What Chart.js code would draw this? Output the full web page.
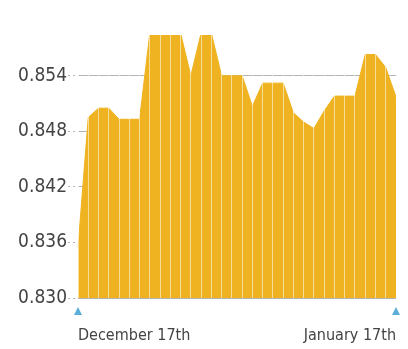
<!DOCTYPE html>
<html lang="en">
<head>
    <meta charset="UTF-8">
    <title>Rate chart</title>
    <script src="https://cdn.jsdelivr.net/npm/chart.js"></script>
    <style>
        html, body {
            margin: 0;
            padding: 0;
            background: #ffffff;
        }
        #wrap {
            width: 408px;
            height: 349px;
        }
    </style>
</head>
<body>
    <div id="wrap"><canvas id="rateChart" width="408" height="349"></canvas></div>

    <script>
        // daily points, Dec 17th -> Jan 17th
        const days = [
            'December 17th', 'Dec 18', 'Dec 19', 'Dec 20', 'Dec 21', 'Dec 22', 'Dec 23', 'Dec 24',
            'Dec 25', 'Dec 26', 'Dec 27', 'Dec 28', 'Dec 29', 'Dec 30', 'Dec 31', 'Jan 1',
            'Jan 2', 'Jan 3', 'Jan 4', 'Jan 5', 'Jan 6', 'Jan 7', 'Jan 8', 'Jan 9',
            'Jan 10', 'Jan 11', 'Jan 12', 'Jan 13', 'Jan 14', 'Jan 15', 'Jan 16', 'January 17th'
        ];
        const rates = [
            0.8354, 0.8495, 0.8505, 0.8505, 0.8493, 0.8493, 0.8493, 0.8586,
            0.8586, 0.8586, 0.8586, 0.8540, 0.8586, 0.8586, 0.8540, 0.8540,
            0.8540, 0.8507, 0.8532, 0.8532, 0.8532, 0.8500, 0.8490, 0.8483,
            0.8502, 0.8518, 0.8518, 0.8518, 0.8563, 0.8563, 0.8549, 0.8517
        ];
        const yTicks = [0.830, 0.836, 0.842, 0.848, 0.854];

        const labelFont = "'DejaVu Sans Condensed', Roboto, sans-serif";

        // little blue markers under first and last day
        const endMarkers = {
            id: 'endMarkers',
            afterDraw(chart) {
                const ctx = chart.ctx;
                const xs = chart.scales.x;
                const top = chart.chartArea.bottom + 9;
                ctx.save();
                ctx.fillStyle = '#5aaed8';
                [0, days.length - 1].forEach(i => {
                    const x = xs.getPixelForValue(i);
                    ctx.beginPath();
                    ctx.moveTo(x, top);
                    ctx.lineTo(x - 4, top + 8);
                    ctx.lineTo(x + 4, top + 8);
                    ctx.closePath();
                    ctx.fill();
                });
                ctx.restore();
            }
        };

        const ctx = document.getElementById('rateChart').getContext('2d');
        new Chart(ctx, {
            type: 'line',
            data: {
                labels: days,
                datasets: [{
                    data: rates,
                    borderColor: '#efb321',
                    backgroundColor: '#efb321',
                    borderWidth: 1,
                    pointRadius: 0,
                    fill: 'start',
                    tension: 0
                }]
            },
            plugins: [endMarkers],
            options: {
                responsive: false,
                animation: false,
                layout: { padding: { top: 35, right: 12, left: 0, bottom: 0 } },
                plugins: {
                    legend: { display: false },
                    tooltip: { enabled: false }
                },
                scales: {
                    x: {
                        border: { display: false },
                        grid: {
                            z: 1,
                            color: 'rgba(255, 255, 255, 0.55)',
                            lineWidth: 1,
                            drawTicks: false
                        },
                        afterFit: s => {
                            s.height = 51;
                            s.paddingLeft = 0;
                            s.paddingRight = 0;
                        },
                        ticks: {
                            autoSkip: false,
                            maxRotation: 0,
                            align: 'inner',
                            padding: 28,
                            color: '#444444',
                            font: { family: labelFont, size: 16 },
                            callback: (v, i) => (i === 0 || i === days.length - 1) ? days[i] : ''
                        }
                    },
                    y: {
                        min: 0.830,
                        max: 0.8584,
                        border: { display: false },
                        afterBuildTicks: s => { s.ticks = yTicks.map(v => ({ value: v })); },
                        afterFit: s => {
                            s.width = 78;
                            s.paddingTop = 0;
                            s.paddingBottom = 0;
                        },
                        grid: {
                            color: '#b4b4b4',
                            lineWidth: 1,
                            tickLength: 10,
                            tickBorderDash: [2, 3],
                            borderDash: [2, 3]
                        },
                        ticks: {
                            padding: 1,
                            color: '#444444',
                            font: { family: labelFont, size: 19 },
                            callback: v => v.toFixed(3)
                        }
                    }
                }
            }
        });
    </script>
</body>
</html>
